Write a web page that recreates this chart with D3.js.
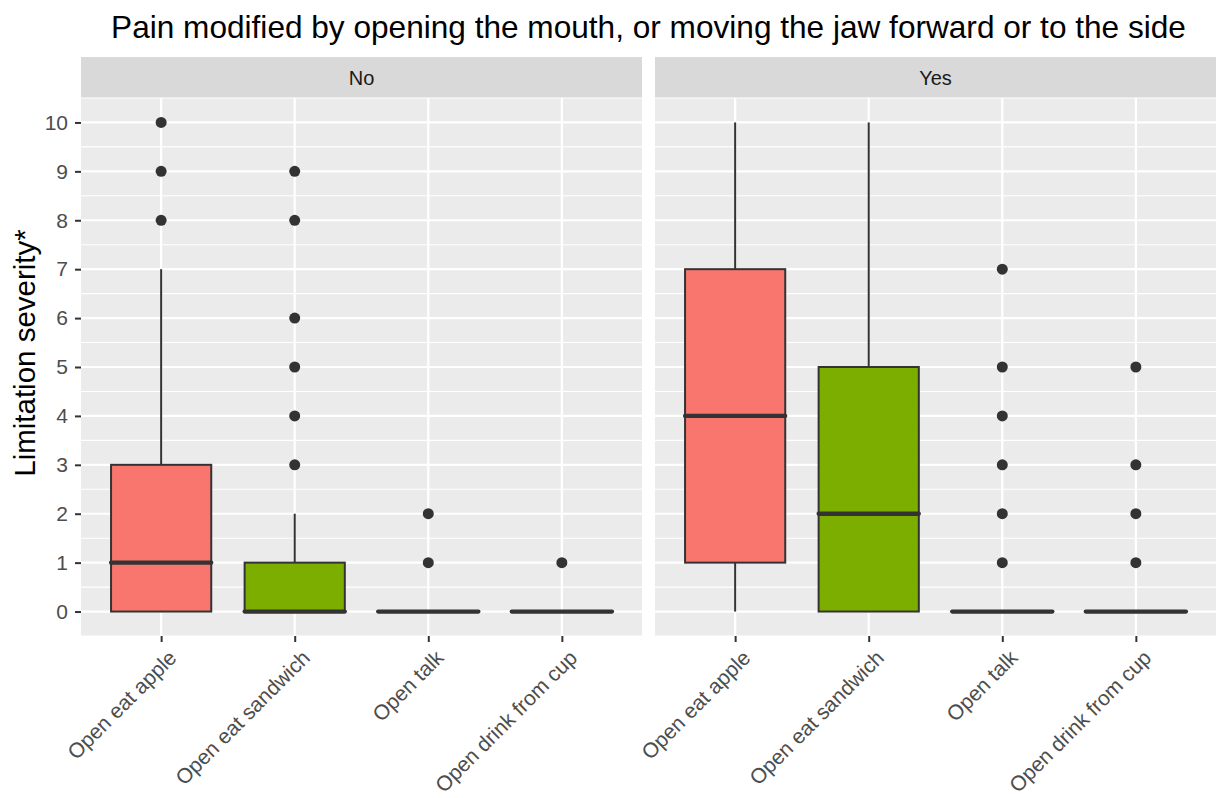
<!DOCTYPE html>
<html>
<head>
<meta charset="utf-8">
<script src="https://cdn.jsdelivr.net/npm/d3@7"></script>
<style>
  html, body { margin: 0; padding: 0; background: #fff; }
  svg { display: block; font-family: "Liberation Sans", Arial, sans-serif; }
</style>
</head>
<body>
<svg id="chart" width="1216" height="798"></svg>
<script>
// Tasks and facets
const categories = ["Open eat apple", "Open eat sandwich", "Open talk", "Open drink from cup"];
const facets = ["No", "Yes"];
const fillColors = ["#F8766D", "#7CAE00", "#00BFC4", "#C77CFF"];
const yTicks = [0, 1, 2, 3, 4, 5, 6, 7, 8, 9, 10];

// Box summaries per facet, one entry per task
const noLower   = [0, 0, 0, 0];
const noQ1      = [0, 0, 0, 0];
const noMedian  = [1, 0, 0, 0];
const noQ3      = [3, 1, 0, 0];
const noUpper   = [7, 2, 0, 0];
const noOutliers = [[8, 9, 10], [3, 4, 5, 6, 8, 9], [1, 2], [1]];

const yesLower  = [0, 0, 0, 0];
const yesQ1     = [1, 0, 0, 0];
const yesMedian = [4, 2, 0, 0];
const yesQ3     = [7, 5, 0, 0];
const yesUpper  = [10, 10, 0, 0];
const yesOutliers = [[], [], [1, 2, 3, 4, 5, 7], [1, 2, 3, 5]];

const summaries = {
  "No":  categories.map((c, i) => ({cat: c, lo: noLower[i], q1: noQ1[i], med: noMedian[i], q3: noQ3[i], hi: noUpper[i], out: noOutliers[i], fill: fillColors[i]})),
  "Yes": categories.map((c, i) => ({cat: c, lo: yesLower[i], q1: yesQ1[i], med: yesMedian[i], q3: yesQ3[i], hi: yesUpper[i], out: yesOutliers[i], fill: fillColors[i]}))
};

const svg = d3.select("#chart");
const panelTop = 98, panelBottom = 636;
const stripTop = 57;
const panelX = {"No": [81, 642], "Yes": [655, 1216]};

const y = d3.scaleLinear().domain([-0.5, 10.5]).range([panelBottom, panelTop]);
const minorTicks = d3.range(-0.5, 10.51, 1);

// Title
svg.append("text")
  .attr("x", 648.5).attr("y", 37.5)
  .attr("text-anchor", "middle")
  .attr("font-size", 31.6)
  .attr("fill", "#000")
  .text("Pain modified by opening the mouth, or moving the jaw forward or to the side");

// Y axis title
svg.append("text")
  .attr("transform", "translate(35,353) rotate(-90)")
  .attr("text-anchor", "middle")
  .attr("font-size", 29.5)
  .attr("fill", "#000")
  .text("Limitation severity*");

facets.forEach((f, fi) => {
  const [x0, x1] = panelX[f];
  const x = d3.scalePoint().domain(categories).range([x0, x1]).padding(0.6);
  const boxW = x.step() * 0.75;
  const g = svg.append("g");

  // Strip
  g.append("rect").attr("x", x0).attr("y", stripTop).attr("width", x1 - x0).attr("height", panelTop - stripTop).attr("fill", "#D9D9D9");
  g.append("text").attr("x", (x0 + x1) / 2).attr("y", (stripTop + panelTop) / 2).attr("dy", "0.36em")
    .attr("text-anchor", "middle").attr("font-size", 20).attr("fill", "#1A1A1A").text(f);

  // Panel background and grid
  g.append("rect").attr("x", x0).attr("y", panelTop).attr("width", x1 - x0).attr("height", panelBottom - panelTop).attr("fill", "#EBEBEB");
  g.selectAll(".minor").data(minorTicks).join("line")
    .attr("x1", x0).attr("x2", x1).attr("y1", d => y(d)).attr("y2", d => y(d))
    .attr("stroke", "#fff").attr("stroke-width", 1.1);
  g.selectAll(".major").data(yTicks).join("line")
    .attr("x1", x0).attr("x2", x1).attr("y1", d => y(d)).attr("y2", d => y(d))
    .attr("stroke", "#fff").attr("stroke-width", 2.2);
  g.selectAll(".vmajor").data(categories).join("line")
    .attr("x1", d => x(d)).attr("x2", d => x(d)).attr("y1", panelTop).attr("y2", panelBottom)
    .attr("stroke", "#fff").attr("stroke-width", 2.2);

  // Boxplots
  const data = summaries[f];
  const bx = g.selectAll(".box").data(data).join("g");
  bx.append("line")
    .attr("x1", d => x(d.cat)).attr("x2", d => x(d.cat))
    .attr("y1", d => y(d.q3)).attr("y2", d => y(d.hi))
    .attr("stroke", "#333333").attr("stroke-width", 2);
  bx.append("line")
    .attr("x1", d => x(d.cat)).attr("x2", d => x(d.cat))
    .attr("y1", d => y(d.q1)).attr("y2", d => y(d.lo))
    .attr("stroke", "#333333").attr("stroke-width", 2);
  bx.append("rect")
    .attr("x", d => x(d.cat) - boxW / 2).attr("width", boxW)
    .attr("y", d => y(d.q3)).attr("height", d => y(d.q1) - y(d.q3))
    .attr("fill", d => d.fill).attr("stroke", "#333333").attr("stroke-width", 2);
  bx.append("line")
    .attr("x1", d => x(d.cat) - boxW / 2).attr("x2", d => x(d.cat) + boxW / 2)
    .attr("y1", d => y(d.med)).attr("y2", d => y(d.med))
    .attr("stroke", "#333333").attr("stroke-width", 4.3).attr("stroke-linecap", "round");
  bx.selectAll("circle").data(d => d.out.map(v => ({cat: d.cat, v}))).join("circle")
    .attr("cx", d => x(d.cat)).attr("cy", d => y(d.v)).attr("r", 5.5)
    .attr("fill", "#333333");

  // X axis
  const xAxis = g.append("g").attr("transform", `translate(0,${panelBottom})`)
    .call(d3.axisBottom(x).tickSize(6).tickPadding(4));
  xAxis.select(".domain").remove();
  xAxis.selectAll(".tick line").attr("stroke", "#333333").attr("stroke-width", 2);
  xAxis.selectAll(".tick text")
    .attr("font-size", 21).attr("fill", "#4D4D4D").attr("font-family", null)
    .attr("text-anchor", "end")
    .attr("x", 0).attr("y", 0)
    .attr("dy", "0.75em")
    .attr("transform", "translate(5,12) rotate(-45)");

  // Y axis (left panel only)
  if (fi === 0) {
    const yAxis = g.append("g").attr("transform", `translate(${x0},0)`)
      .call(d3.axisLeft(y).tickValues(yTicks).tickSize(6).tickPadding(7));
    yAxis.select(".domain").remove();
    yAxis.selectAll(".tick line").attr("stroke", "#333333").attr("stroke-width", 2);
    yAxis.selectAll(".tick text").attr("font-size", 21).attr("fill", "#4D4D4D").attr("font-family", null);
  }
});
</script>
</body>
</html>
